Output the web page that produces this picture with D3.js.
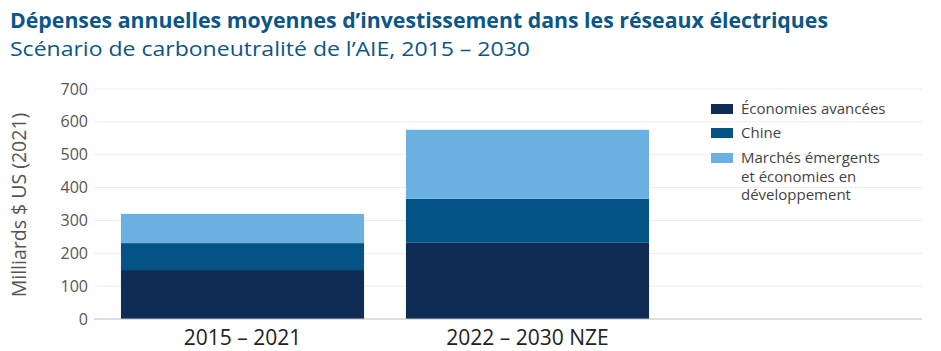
<!DOCTYPE html>
<html>
<head>
<meta charset="utf-8">
<script src="https://cdn.jsdelivr.net/npm/d3@7"></script>
<style>
  body { margin: 0; background: #fff; }
  svg text { font-family: "Open Sans", sans-serif; }
</style>
</head>
<body>
<svg id="chart" width="941" height="351"></svg>
<script>
// data
const periods = ['2015 – 2021', '2022 – 2030 NZE'];
const series = ['Économies avancées', 'Chine', 'Marchés émergents et économies en développement'];
const advanced = [149, 232];
const china = [82, 134];
const emde = [89, 210];
const yTicks = [0, 100, 200, 300, 400, 500, 600, 700];
const colors = ['#0f2d54', '#035385', '#6ab0e0'];

const svg = d3.select('#chart');
const M = { left: 94, right: 922, top: 89, bottom: 319 };

const rows = periods.map((p, i) => ({ period: p, adv: advanced[i], chn: china[i], emde: emde[i] }));
const stack = d3.stack().keys(['adv', 'chn', 'emde'])(rows);

const x = d3.scaleBand().domain(periods).range([100, 670]).paddingInner(0.147).paddingOuter(0.0735);
const y = d3.scaleLinear().domain([0, 700]).range([M.bottom, M.top]);

// title
svg.append('text').attr('x', 10).attr('y', 28)
  .attr('font-size', 20.5).attr('font-weight', 700).attr('fill', '#0b5688')
  .attr('textLength', 818).attr('lengthAdjust', 'spacingAndGlyphs')
  .text('Dépenses annuelles moyennes d’investissement dans les réseaux électriques');
svg.append('text').attr('x', 10).attr('y', 56)
  .attr('font-size', 20).attr('fill', '#0b5688')
  .attr('textLength', 520).attr('lengthAdjust', 'spacingAndGlyphs')
  .text('Scénario de carboneutralité de l’AIE, 2015 – 2030');

// grid
svg.append('g').selectAll('line').data(yTicks.slice(1)).join('line')
  .attr('x1', M.left).attr('x2', M.right)
  .attr('y1', d => y(d)).attr('y2', d => y(d))
  .attr('stroke', '#ececec').attr('stroke-width', 1);

const yAxis = svg.append('g').attr('transform', `translate(${M.left},0)`)
  .call(d3.axisLeft(y).tickValues(yTicks).tickSize(0).tickPadding(6));
yAxis.select('.domain').remove();
yAxis.selectAll('text').attr('font-size', 16).attr('fill', '#555').attr('font-family', '"Open Sans", sans-serif');

svg.append('text')
  .attr('transform', `translate(26, ${(M.top + M.bottom) / 2 + 1}) rotate(-90)`)
  .attr('text-anchor', 'middle').attr('font-size', 19.5).attr('fill', '#555')
  .text('Milliards $ US (2021)');

// bars
svg.append('g').selectAll('g').data(stack).join('g')
  .attr('fill', (d, i) => colors[i])
  .selectAll('rect').data(d => d).join('rect')
  .attr('x', d => x(d.data.period))
  .attr('width', x.bandwidth())
  .attr('y', d => y(d[1]))
  .attr('height', d => y(d[0]) - y(d[1]));

// baseline
svg.append('line').attr('x1', M.left).attr('x2', M.right)
  .attr('y1', y(0)).attr('y2', y(0)).attr('stroke', '#bbb');

// x labels
svg.append('g').selectAll('text').data(periods).join('text')
  .attr('x', d => x(d) + x.bandwidth() / 2).attr('y', 345)
  .attr('text-anchor', 'middle').attr('font-size', 21).attr('fill', '#222')
  .text(d => d);

// legend
const legendLines = [['Économies avancées'], ['Chine'], ['Marchés émergents', 'et économies en', 'développement']];
const lg = svg.append('g').attr('transform', 'translate(711,0)');
const legY = [109, 133, 158];
legendLines.forEach((lines, i) => {
  lg.append('rect').attr('x', 0).attr('y', legY[i] - 5).attr('width', 22).attr('height', 10).attr('fill', colors[i]);
  lines.forEach((t, j) => {
    lg.append('text').attr('x', 30).attr('y', legY[i] + 5 + j * 18.5)
      .attr('font-size', 15).attr('fill', '#444').text(t);
  });
});
</script>
</body>
</html>
